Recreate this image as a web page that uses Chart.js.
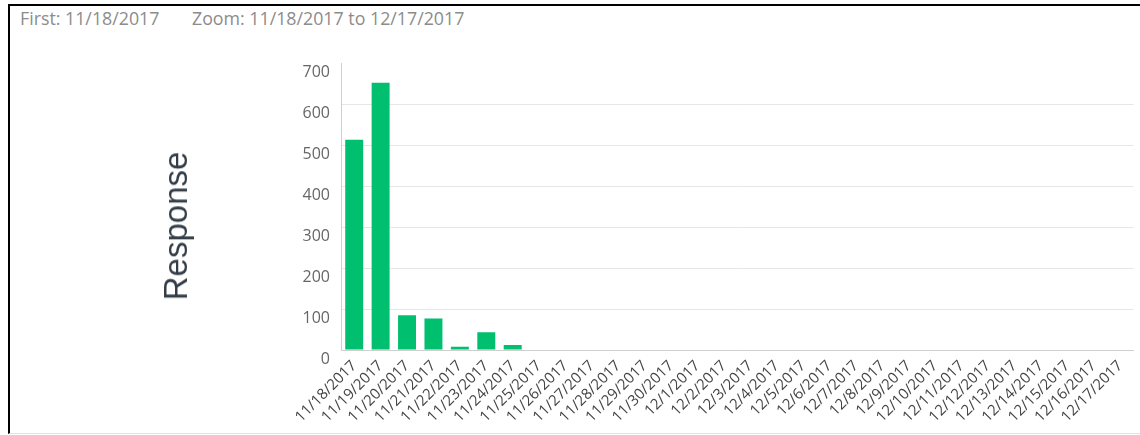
<!DOCTYPE html>
<html>
<head>
<meta charset="utf-8">
<script src="https://cdn.jsdelivr.net/npm/chart.js@4"></script>
<style>
  html, body { margin: 0; padding: 0; background: #fff; }
  #wrap { position: relative; width: 1140px; height: 435px; overflow: hidden; }
  #frame { position: absolute; left: 8px; top: 4px; width: 1132px; height: 430px;
           border-left: 2px solid #000; border-top: 2px solid #000; border-bottom: 1px solid #e2e2e2; box-sizing: border-box; }
  .hdr { position: absolute; top: 6px; font-family: "Open Sans", sans-serif; font-size: 17.8px; color: #8c8c8c; white-space: nowrap; }
  #ytitle { position: absolute; left: 176px; top: 226px; transform: translate(-50%, -50%) rotate(-90deg);
            font-family: "Liberation Sans", Arial, sans-serif; font-size: 33px; color: #333e48; white-space: nowrap; }
  canvas { position: absolute; left: 0; top: 0; }
</style>
</head>
<body>
<div id="wrap">
  <div id="frame"></div>
  <div class="hdr" style="left:20px">First: 11/18/2017</div>
  <div class="hdr" style="left:192px">Zoom: 11/18/2017 to 12/17/2017</div>
  <canvas id="c" width="1140" height="435"></canvas>
  <div id="ytitle"></div>
</div>
<script>
const categories = ["11/18/2017","11/19/2017","11/20/2017","11/21/2017","11/22/2017","11/23/2017","11/24/2017","11/25/2017","11/26/2017","11/27/2017","11/28/2017","11/29/2017","11/30/2017","12/1/2017","12/2/2017","12/3/2017","12/4/2017","12/5/2017","12/6/2017","12/7/2017","12/8/2017","12/9/2017","12/10/2017","12/11/2017","12/12/2017","12/13/2017","12/14/2017","12/15/2017","12/16/2017","12/17/2017"];
const responses = [513, 652, 85, 77, 8, 43, 12, 0, 0, 0, 0, 0, 0, 0, 0, 0, 0, 0, 0, 0, 0, 0, 0, 0, 0, 0, 0, 0, 0, 0];
const yTicks = [0, 100, 200, 300, 400, 500, 600, 700];
const yTitle = "Response";

document.getElementById('ytitle').textContent = yTitle;

new Chart(document.getElementById('c'), {
  type: 'bar',
  data: {
    labels: categories,
    datasets: [{
      data: responses,
      backgroundColor: '#00bf6f',
      borderWidth: 0,
      barPercentage: 0.68,
      categoryPercentage: 1.0
    }]
  },
  options: {
    responsive: false,
    devicePixelRatio: 1,
    animation: false,
    layout: { padding: { left: 10, right: 3, top: 63, bottom: 0 } },
    plugins: { legend: { display: false }, tooltip: { enabled: false } },
    scales: {
      x: {
        grid: { display: false, drawTicks: false },
        border: { display: true, color: '#cfcfcf', width: 1 },
        ticks: {
          autoSkip: false, minRotation: 45, maxRotation: 45, padding: 7,
          color: '#444', font: { family: 'Open Sans', size: 15 }
        },
        afterFit: s => { s.height = 85; }
      },
      y: {
        min: 0, max: 700,
        afterBuildTicks: s => { s.ticks = yTicks.map(v => ({ value: v })); },
        grid: {
          drawTicks: false,
          color: c => (c.tick && c.tick.value === 700) ? 'rgba(0,0,0,0)' : '#e6e6e6'
        },
        border: { display: true, color: '#cfcfcf', width: 1 },
        ticks: {
          padding: 11, labelOffset: 9, color: '#666',
          font: { family: 'Open Sans', size: 16 }
        },
        afterFit: s => { s.width = 331; }
      }
    }
  }
});
</script>
</body>
</html>
